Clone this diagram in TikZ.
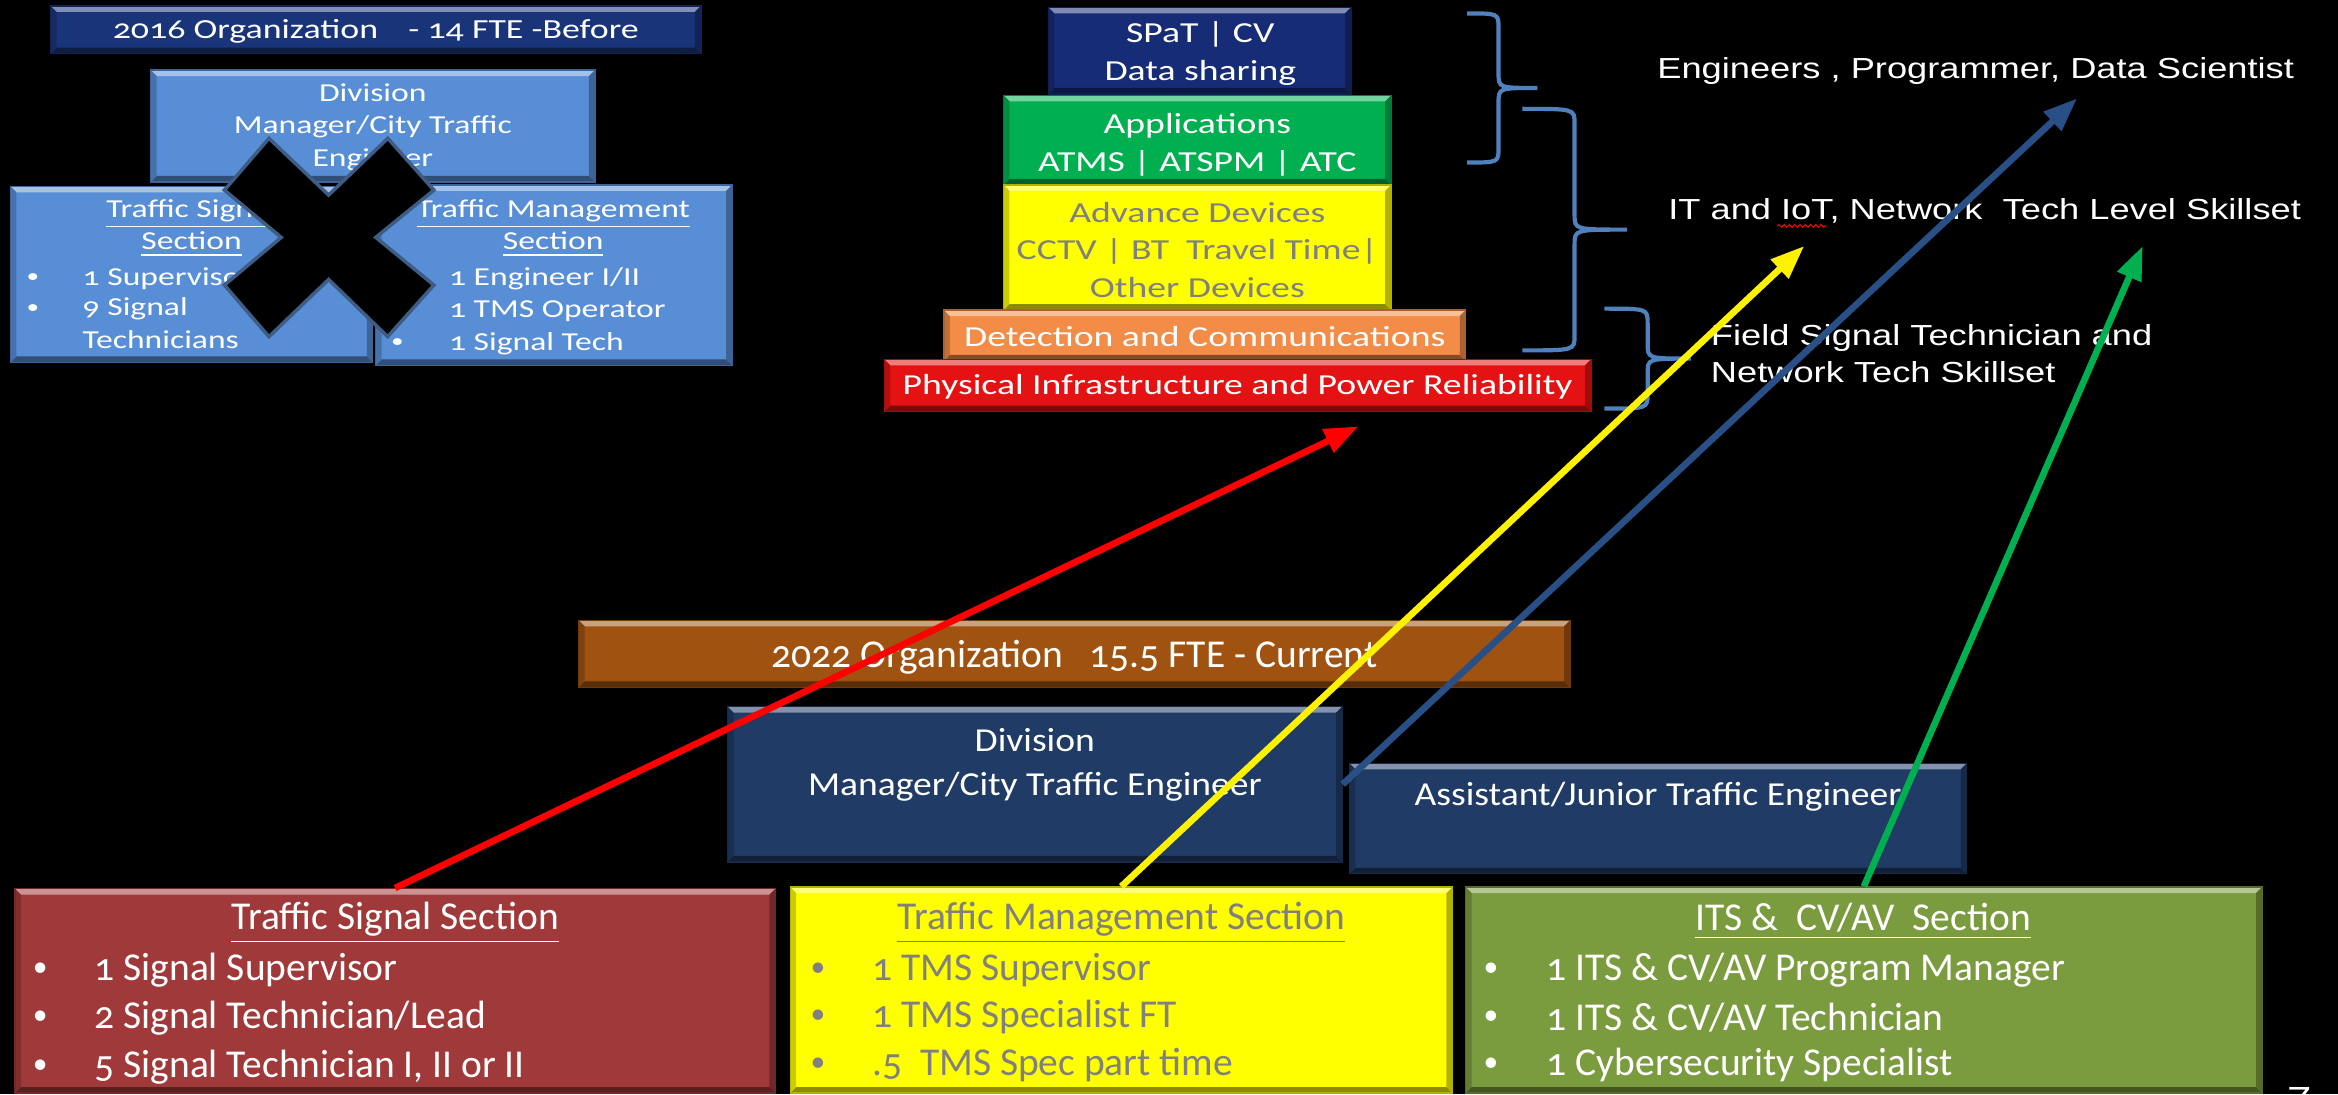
\documentclass[tikz,border=0pt]{standalone}
\usepackage{fontspec}
\usepackage{graphicx}
\setmainfont{Carlito}[Numbers=OldStyle]
\newfontfamily\widefont{Carlito}[FakeStretch=1.3, Numbers=OldStyle]
\newfontfamily\midfont{Carlito}[FakeStretch=1.12, Numbers=OldStyle]
\newfontfamily\labfont{Liberation Sans}[FakeStretch=1.25]
\usetikzlibrary{arrows.meta,calc,fit,positioning,decorations.pathmorphing}
\definecolor{navyA}{RGB}{25,52,120}
\definecolor{skyA}{RGB}{88,142,214}
\definecolor{xedge}{RGB}{62,92,132}
\definecolor{spatblue}{RGB}{22,44,118}
\definecolor{appgreen}{RGB}{0,176,80}
\definecolor{devyellow}{RGB}{255,255,0}
\definecolor{detorange}{RGB}{242,140,70}
\definecolor{physred}{RGB}{228,18,18}
\definecolor{bracecol}{RGB}{79,129,189}
\definecolor{orgbrown}{RGB}{160,82,16}
\definecolor{divnavy}{RGB}{31,59,102}
\definecolor{sigred}{RGB}{160,58,58}
\definecolor{tmsgray}{RGB}{128,128,128}
\definecolor{itsolive}{RGB}{122,155,62}
\definecolor{arrblue}{RGB}{40,80,135}
\definecolor{arrgreen}{RGB}{0,176,80}
\def\dotb{\scalebox{0.75}{\textbullet}}
\def\bev{0.06cm}
% curly brace: start x, spine x, tip x, top y, bottom y
\newcommand{\curly}[5]{\draw[bracecol, line width=1.2pt] (#1,#4) .. controls (#2,#4) .. (#2,{#4+10}) -- (#2,{(#4+#5)/2-10}) .. controls (#2,{(#4+#5)/2}) .. (#3,{(#4+#5)/2}) .. controls (#2,{(#4+#5)/2}) .. (#2,{(#4+#5)/2+10}) -- (#2,{#5-10}) .. controls (#2,#5) .. (#1,#5);}
\tikzset{
  bevel/.style={fill=#1, draw=#1!70!black, line width=0.4pt, inner sep=0pt,
    path picture={
      \coordinate (bnw) at (path picture bounding box.north west);
      \coordinate (bne) at (path picture bounding box.north east);
      \coordinate (bsw) at (path picture bounding box.south west);
      \coordinate (bse) at (path picture bounding box.south east);
      \fill[#1!55!white] (bnw) -- (bne) -- ([shift={(-\bev,-\bev)}]bne) -- ([shift={(\bev,-\bev)}]bnw) -- cycle;
      \fill[#1!55!black] (bsw) -- (bse) -- ([shift={(-\bev,\bev)}]bse) -- ([shift={(\bev,\bev)}]bsw) -- cycle;
      \fill[#1!80!black] (bnw) -- (bsw) -- ([shift={(\bev,\bev)}]bsw) -- ([shift={(\bev,-\bev)}]bnw) -- cycle;
      \fill[#1!70!black] (bne) -- (bse) -- ([shift={(-\bev,\bev)}]bse) -- ([shift={(-\bev,-\bev)}]bne) -- cycle;
    }},
  f16/.style={font=\widefont\fontsize{7.4}{9.3}\selectfont},
  fpyr/.style={font=\widefont\fontsize{8.3}{10.7}\selectfont},
  f22/.style={font=\fontsize{11.3}{13.7}\selectfont},
  fdiv/.style={font=\midfont\fontsize{9.6}{12.8}\selectfont},
  flab/.style={font=\labfont\fontsize{8.3}{10.7}\selectfont, text=white, inner sep=0pt},
  wtxt/.style={text=white, inner sep=0pt, align=center},
  arr/.style={line width=1.9pt, -{Triangle[length=0.34cm,width=0.25cm]}},
}

\begin{document}
\begin{tikzpicture}[x=0.015cm,y=-0.015cm]
\useasboundingbox (0,0) rectangle (1568,734);
\fill[black] (0,0) rectangle (1568,734);
% 2016 organization (before)
\node[bevel=navyA, fit={(34,4) (470,36)}] (org16) {};
\node[wtxt, font=\widefont\fontsize{7.9}{9}\selectfont] (org16t) at (252,21) {2016 Organization\hspace{1.1em}- 14 FTE -Before};
\node[bevel=skyA, fit={(101,47) (399,122)}] (div16) {};
\node[wtxt, f16] (div16t) at (250,85.3) {Division\\Manager/City Traffic\\Engineer};
\node[bevel=skyA, fit={(7,125) (250,243)}] (sig16) {};
\node[bevel=skyA, fit={(252,124) (491,245)}] (tms16) {};
\node[wtxt, f16] (sig16t) at (128.5,153) {\underline{Traffic Signal}\\\underline{Section}};
\node[wtxt, f16] (b1) at (22,186.7) {\dotb};
\node[wtxt, f16] (b2) at (22,207) {\dotb};
\node[wtxt, f16, anchor=west] (s1) at (55,186.7) {1 Supervisor};
\node[wtxt, f16, anchor=west] (s2) at (55,207) {9 Signal};
\node[wtxt, f16, anchor=west] (s3) at (55,228) {Technicians};
\node[wtxt, f16] (tms16t) at (371,153) {\underline{Traffic Management}\\\underline{Section}};
\node[wtxt, f16] (b3) at (266.6,186.7) {\dotb};
\node[wtxt, f16] (b4) at (266.6,208.4) {\dotb};
\node[wtxt, f16] (b5) at (266.6,230.3) {\dotb};
\node[wtxt, f16, anchor=west] (m1) at (300.7,186.7) {1 Engineer I/II};
\node[wtxt, f16, anchor=west] (m2) at (300.7,208.4) {1 TMS Operator};
\node[wtxt, f16, anchor=west] (m3) at (300.7,230.3) {1 Signal Tech};
% the cross
\draw[draw=xedge, line width=1pt, fill=black] (150.5,127.5) -- (180.4,92.8) -- (220.4,130.8) -- (260.1,92.8) -- (291,127.5) -- (252,159.2) -- (291,191.2) -- (260,225.8) -- (220.4,187.4) -- (180.4,225.8) -- (150.5,191.2) -- (188.6,159.2) -- cycle;
% pyramid
\node[bevel=spatblue, fit={(703,5) (906,63)}] (spat) {};
\node[bevel=appgreen, fit={(673,64) (933,124)}] (apps) {};
\node[bevel=devyellow, fit={(673,124) (933,208)}] (dev) {};
\node[bevel=detorange, fit={(633,208) (983,242)}] (det) {};
\node[bevel=physred, fit={(593,241) (1067,276)}] (phys) {};
\node[wtxt, fpyr] (spatt) at (805,36) {SPaT | CV\\Data sharing};
\node[wtxt, fpyr] (appst) at (803,97) {Applications\\ATMS | ATSPM | ATC};
\node[wtxt, fpyr, text=tmsgray] (devt) at (803,167.5) {Advance Devices\\CCTV | BT\ \ Travel Time|\\Other Devices};
\node[wtxt, fpyr] (dett) at (808,226) {Detection and Communications};
\node[wtxt, fpyr] (physt) at (830,259.5) {Physical Infrastructure and Power Reliability};
\curly{984}{1005}{1031}{9}{109}
\curly{1021}{1056}{1091}{73}{235}
\curly{1076}{1105}{1134}{207}{274}
% skill labels
\node[flab] (skill1) at (1325,47.5) {Engineers , Programmer, Data Scientist};
\node[flab] (skill2) at (1331,141.5) {IT and IoT, Network\ \ Tech Level Skillset};
\node[flab, anchor=west, align=left] (skill3) at (1147,237) {Field Signal Technician and\\Network Tech Skillset};
\draw[red, line width=0.3pt, decorate, decoration={snake, amplitude=0.4pt, segment length=1.5pt}] (1192,151.5) -- (1225,151.5);
% 2022 organization (current)
\node[bevel=orgbrown, fit={(388,416) (1053,461)}] (org22) {};
\node[wtxt, font=\fontsize{11.3}{12}\selectfont] (org22t) at (720.5,441) {2022 Organization\ \ \ 15.5 FTE - Current};
\node[bevel=divnavy, fit={(488,474) (900,578)}] (div22) {};
\node[wtxt, fdiv] (div22t) at (694,513) {Division\\Manager/City Traffic Engineer};
\node[bevel=divnavy, fit={(905,512) (1319,586)}] (asst22) {};
\node[wtxt, fdiv] (asst22t) at (1112,534.5) {Assistant/Junior Traffic Engineer};
\node[bevel=sigred, fit={(10,596) (520,733)}] (sig22) {};
\node[wtxt, f22] (sig22t) at (265,619) {\underline{Traffic Signal Section}};
\node[wtxt, f22] (c1) at (27,650.5) {\dotb};
\node[wtxt, f22] (c2) at (27,682.7) {\dotb};
\node[wtxt, f22] (c3) at (27,715.6) {\dotb};
\node[wtxt, f22, anchor=west] (g1) at (63,650.5) {1 Signal Supervisor};
\node[wtxt, f22, anchor=west] (g2) at (63,682.7) {2 Signal Technician/Lead};
\node[wtxt, f22, anchor=west] (g3) at (63,715.6) {5 Signal Technician I, II or II};
\node[bevel=devyellow, fit={(530,595) (974,733)}] (tms22) {};
\node[wtxt, f22, text=tmsgray] (tms22t) at (752,619) {\underline{Traffic Management Section}};
\node[wtxt, f22, text=tmsgray] (c4) at (548.6,650.6) {\dotb};
\node[wtxt, f22, text=tmsgray] (c5) at (548.6,681.9) {\dotb};
\node[wtxt, f22, text=tmsgray] (c6) at (548.6,714.3) {\dotb};
\node[wtxt, f22, text=tmsgray, anchor=west] (h1) at (584.5,650.6) {1 TMS Supervisor};
\node[wtxt, f22, text=tmsgray, anchor=west] (h2) at (584.5,681.9) {1 TMS Specialist FT};
\node[wtxt, f22, text=tmsgray, anchor=west] (h3) at (584.5,714.3) {.5\ \ TMS Spec part time};
\node[bevel=itsolive, fit={(983,595) (1517,733)}] (its22) {};
\node[wtxt, f22] (its22t) at (1249.5,618) {\underline{ITS \&\ \ CV/AV\ \ Section}};
\node[wtxt, f22] (c7) at (1000,650.6) {\dotb};
\node[wtxt, f22] (c8) at (1000,682.8) {\dotb};
\node[wtxt, f22] (c9) at (1000,714.3) {\dotb};
\node[wtxt, f22, anchor=west] (k1) at (1037,650.6) {1 ITS \& CV/AV Program Manager};
\node[wtxt, f22, anchor=west] (k2) at (1037,682.8) {1 ITS \& CV/AV Technician};
\node[wtxt, f22, anchor=west] (k3) at (1037,714.3) {1 Cybersecurity Specialist};
\node[wtxt, font=\labfont\fontsize{10}{11}\selectfont, anchor=north] (pageno) at (1542,729) {7};
% arrows to the skill levels
\coordinate (redtip) at (911,286);
\coordinate (yeltip) at (1210,165);
\coordinate (bluetip) at (1393,66);
\coordinate (grntip) at (1437,165);
\draw[arr, red] (sig22.north) -- (redtip);
\draw[arr, yellow] (tms22.north) -- (yeltip);
\draw[arr, arrblue] (div22.east) -- (bluetip);
\draw[arr, arrgreen] (its22.north) -- (grntip);
\end{tikzpicture}
\end{document}
